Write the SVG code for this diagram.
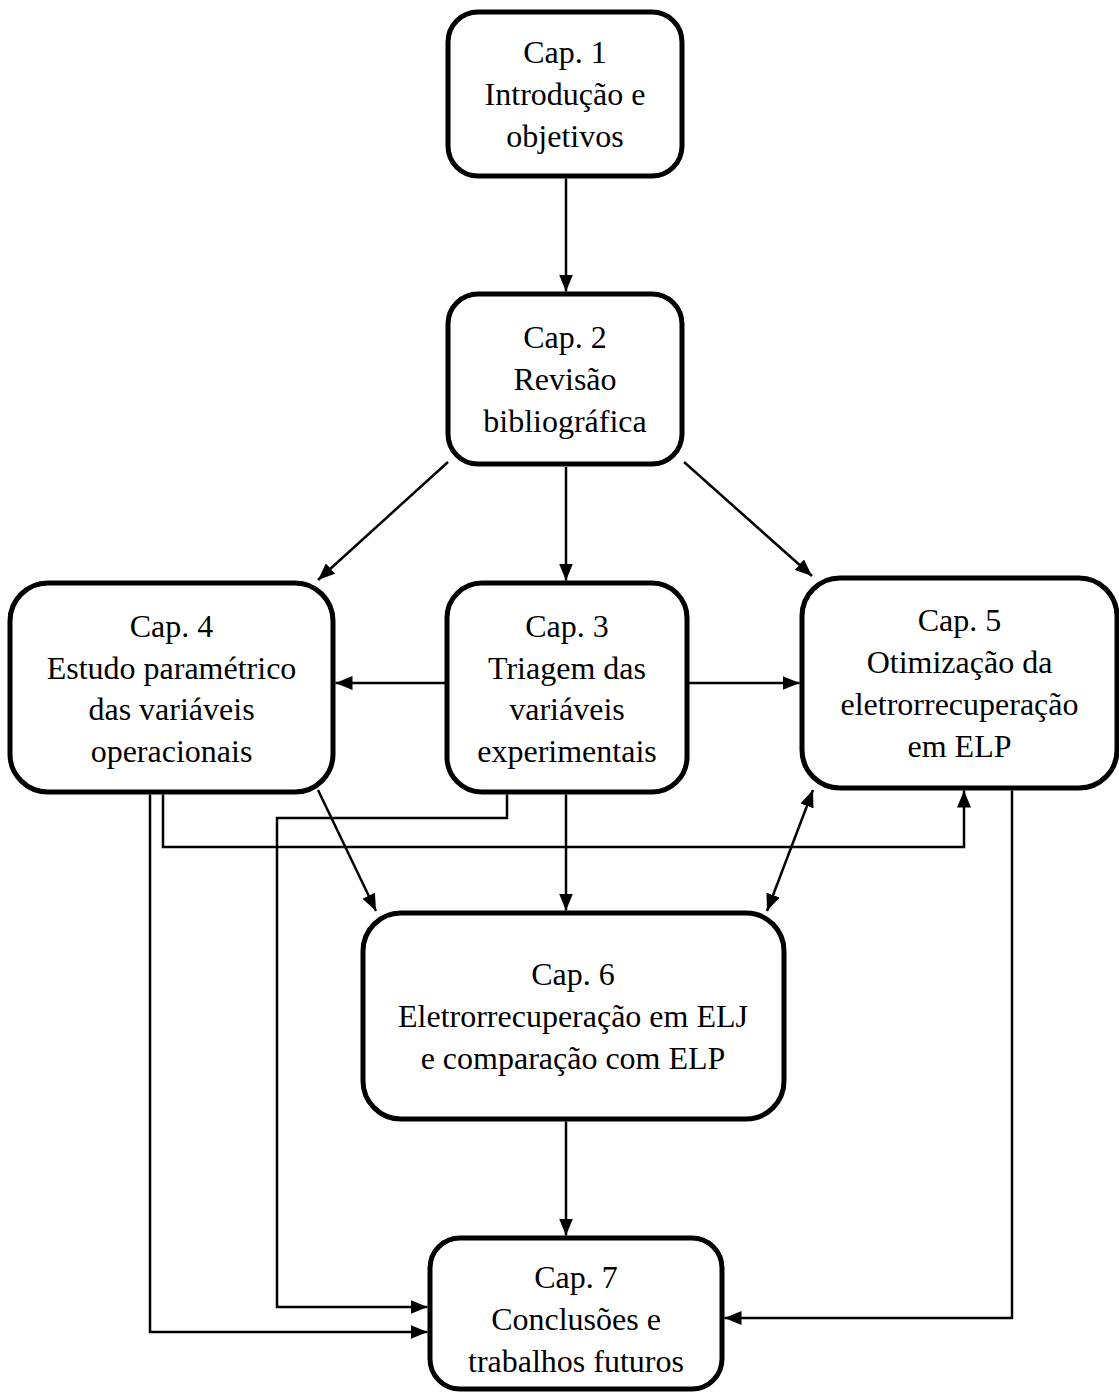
<svg xmlns="http://www.w3.org/2000/svg" width="1119" height="1392" viewBox="0 0 1119 1392">
  <style>
    .box { fill: #ffffff; stroke: #000000; stroke-width: 5; }
    .lbl { font-family: "Liberation Serif", "Times New Roman", serif; font-size: 32px; fill: #000000; text-anchor: middle; }
    .edge { fill: none; stroke: #000000; stroke-width: 2.5; }
  </style>
  <defs>
    <marker id="arrow" markerUnits="userSpaceOnUse" markerWidth="18" markerHeight="14" refX="17" refY="7" orient="auto-start-reverse">
      <path d="M0,0 L17,7 L0,14 z" fill="#000000"/>
    </marker>
  </defs>

  <rect width="1119" height="1392" fill="#ffffff"/>

  <!-- connectors -->
  <g id="connectors">
    <path class="edge" d="M566,178.5 V291.5" marker-end="url(#arrow)"/>
    <path class="edge" d="M566,467 V580.5" marker-end="url(#arrow)"/>
    <path class="edge" d="M448,462 L318,580" marker-end="url(#arrow)"/>
    <path class="edge" d="M684,462 L812,576" marker-end="url(#arrow)"/>
    <path class="edge" d="M447,683 H335.5" marker-end="url(#arrow)"/>
    <path class="edge" d="M687,683 H799.5" marker-end="url(#arrow)"/>
    <path class="edge" d="M566,794.5 V910.5" marker-end="url(#arrow)"/>
    <path class="edge" d="M318,790 L376,911" marker-end="url(#arrow)"/>
    <path class="edge" d="M813,790 L767,911" marker-start="url(#arrow)" marker-end="url(#arrow)"/>
    <path class="edge" d="M163,794.5 V847 H964 V790.5" marker-end="url(#arrow)"/>
    <path class="edge" d="M150,794.5 V1332 H427.5" marker-end="url(#arrow)"/>
    <path class="edge" d="M507,794.5 V818 H277 V1307 H427.5" marker-end="url(#arrow)"/>
    <path class="edge" d="M1012,790.5 V1318 H724.5" marker-end="url(#arrow)"/>
    <path class="edge" d="M566,1121.5 V1235.5" marker-end="url(#arrow)"/>
  </g>

  <!-- chapter nodes -->
  <g id="cap1">
    <rect class="box" x="448" y="12" width="234" height="164" rx="30"/>
    <text class="lbl" x="565" y="63">Cap. 1</text>
    <text class="lbl" x="565" y="105">Introdução e</text>
    <text class="lbl" x="565" y="147">objetivos</text>
  </g>

  <g id="cap2">
    <rect class="box" x="448" y="294" width="234" height="170" rx="30"/>
    <text class="lbl" x="565" y="348">Cap. 2</text>
    <text class="lbl" x="565" y="390">Revisão</text>
    <text class="lbl" x="565" y="432">bibliográfica</text>
  </g>

  <g id="cap3">
    <rect class="box" x="447" y="583" width="240" height="209" rx="35"/>
    <text class="lbl" x="567" y="637">Cap. 3</text>
    <text class="lbl" x="567" y="679">Triagem das</text>
    <text class="lbl" x="567" y="720">variáveis</text>
    <text class="lbl" x="567" y="762">experimentais</text>
  </g>

  <g id="cap4">
    <rect class="box" x="10" y="583" width="323" height="209" rx="38"/>
    <text class="lbl" x="171.5" y="637">Cap. 4</text>
    <text class="lbl" x="171.5" y="679">Estudo paramétrico</text>
    <text class="lbl" x="171.5" y="720">das variáveis</text>
    <text class="lbl" x="171.5" y="762">operacionais</text>
  </g>

  <g id="cap5">
    <rect class="box" x="802" y="578" width="315" height="210" rx="38"/>
    <text class="lbl" x="959.5" y="631">Cap. 5</text>
    <text class="lbl" x="959.5" y="673">Otimização da</text>
    <text class="lbl" x="959.5" y="715">eletrorrecuperação</text>
    <text class="lbl" x="959.5" y="757">em ELP</text>
  </g>

  <g id="cap6">
    <rect class="box" x="363" y="913" width="421" height="206" rx="38"/>
    <text class="lbl" x="573" y="985">Cap. 6</text>
    <text class="lbl" x="573" y="1027">Eletrorrecuperação em ELJ</text>
    <text class="lbl" x="573" y="1069">e comparação com ELP</text>
  </g>

  <g id="cap7">
    <rect class="box" x="430" y="1238" width="292" height="151" rx="30"/>
    <text class="lbl" x="576" y="1288">Cap. 7</text>
    <text class="lbl" x="576" y="1330">Conclusões e</text>
    <text class="lbl" x="576" y="1372">trabalhos futuros</text>
  </g>
</svg>
